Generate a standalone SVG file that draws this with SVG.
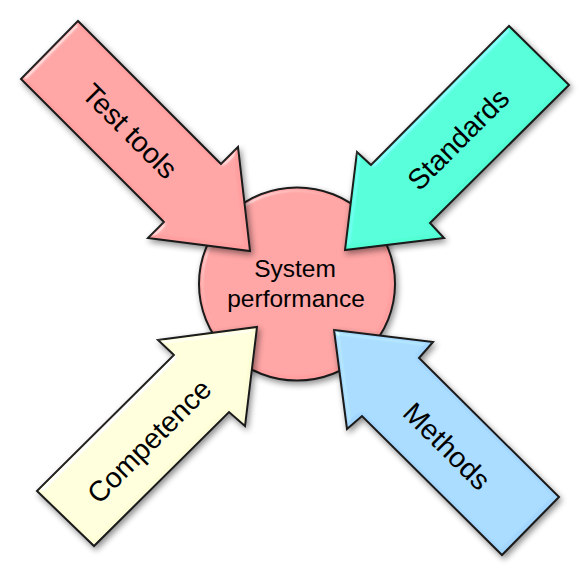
<svg xmlns="http://www.w3.org/2000/svg" width="586" height="573" viewBox="0 0 586 573">
  <defs>
    <filter id="bevel" x="-15%" y="-15%" width="135%" height="135%" color-interpolation-filters="sRGB">
      <feGaussianBlur in="SourceAlpha" stdDeviation="3" result="sblur"/>
      <feOffset in="sblur" dx="2" dy="3" result="soff"/>
      <feComponentTransfer in="soff" result="shadow">
        <feFuncA type="linear" slope="0.45"/>
      </feComponentTransfer>
      <feGaussianBlur in="SourceAlpha" stdDeviation="2.5" result="blur"/>
      <feSpecularLighting in="blur" surfaceScale="4" specularConstant="0.6" specularExponent="22" lighting-color="#ffffff" result="spec">
        <feDistantLight azimuth="225" elevation="40"/>
      </feSpecularLighting>
      <feComposite in="spec" in2="SourceAlpha" operator="in" result="specIn"/>
      <feComposite in="SourceGraphic" in2="specIn" operator="arithmetic" k1="0" k2="1" k3="0.4" k4="0" result="lit"/>
      <feMerge>
        <feMergeNode in="shadow"/>
        <feMergeNode in="lit"/>
      </feMerge>
    </filter>
    <style>
      .shape { stroke: #1a1a1a; stroke-width: 2; stroke-linejoin: miter; filter: url(#bevel); }
      .lbl { font-family: "Liberation Sans", Arial, sans-serif; font-size: 28.5px; fill: #000; text-anchor: middle; }
      .ctr { font-family: "Liberation Sans", Arial, sans-serif; font-size: 24.5px; fill: #000; text-anchor: middle; }
    </style>
  </defs>
  <rect width="586" height="573" fill="#ffffff"/>

  <g id="system-performance">
    <ellipse class="shape" cx="297" cy="284" rx="98" ry="96.5" fill="#ff9f9f"/>
    <text class="ctr" x="295" y="277">System</text>
    <text class="ctr" x="296" y="306.5">performance</text>
  </g>

  <g id="connectors"></g>

  <g id="test-tools">
    <polygon class="shape" fill="#ff9f9f" points="78,21 221,164 238,147 250,251 148,238 164,222 21,79"/>
    <text class="lbl" transform="translate(130,131) rotate(45)" y="10">Test tools</text>
  </g>

  <g id="standards">
    <polygon class="shape" fill="#52ffd4" points="509,26 371,165 357,152 345,250 444,238 430,223 569,85"/>
    <text class="lbl" transform="translate(458,139) rotate(-45)" y="10">Standards</text>
  </g>

  <g id="competence">
    <polygon class="shape" fill="#fcfcd6" points="37,491 174,355 158,340 257,327 245,426 229,412 94,546"/>
    <text class="lbl" transform="translate(149,441) rotate(-45)" y="10">Competence</text>
  </g>

  <g id="methods">
    <polygon class="shape" fill="#a3d6ff" points="334,330 433,342 419,358 559,497 502,555 362,416 347,429"/>
    <text class="lbl" transform="translate(447,446) rotate(45)" y="10">Methods</text>
  </g>
</svg>
